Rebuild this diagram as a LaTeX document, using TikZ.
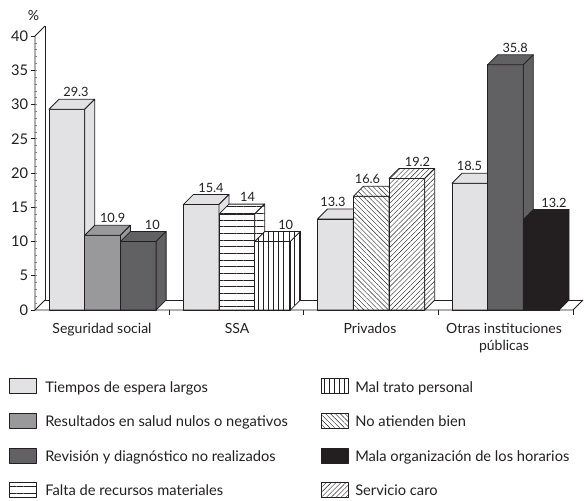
\documentclass[tikz,border=0pt]{standalone}
\usepackage{fontspec}
\setmainfont{Lato}
\usetikzlibrary{patterns.meta}

\definecolor{trazo}{RGB}{35,31,32}
\definecolor{espera}{RGB}{226,226,228}
\definecolor{nulos}{RGB}{153,153,156}
\definecolor{revision}{RGB}{97,97,99}
\definecolor{horarios}{RGB}{35,31,32}

\tikzset{
  barra/.style={draw=trazo, line width=0.6pt, line join=round},
  fespera/.style={fill=espera},
  fnulos/.style={fill=nulos},
  frevision/.style={fill=revision},
  fhorarios/.style={fill=horarios},
  fmateriales/.style={preaction={fill=white}, pattern={Lines[angle=0,distance=5pt,line width=0.4pt]}, pattern color=trazo},
  fmaltrato/.style={preaction={fill=white}, pattern={Lines[angle=90,distance=3.8pt,line width=0.4pt]}, pattern color=trazo},
  fatienden/.style={preaction={fill=white}, pattern={Lines[angle=-45,distance=2.6pt,line width=0.3pt]}, pattern color=trazo},
  fcaro/.style={preaction={fill=white}, pattern={Lines[angle=45,distance=2.6pt,line width=0.3pt]}, pattern color=trazo},
  val/.style={anchor=south, inner sep=0.75pt, font=\fontsize{9.6}{10}\selectfont, text=trazo},
  cat/.style={anchor=base, inner sep=0.75pt, font=\fontsize{10.5}{12}\selectfont, text=trazo},
  eje/.style={anchor=east, inner sep=0.75pt, font=\fontsize{11}{12}\selectfont, text=trazo},
  ley/.style={anchor=base west, inner sep=0pt, font=\fontsize{11}{12}\selectfont, text=trazo},
}

% 3D bar: left x, value, fill style
\newcommand{\cubo}[3]{%
  \pgfmathsetmacro{\ytop}{310-#2*6.85}
  \filldraw[barra,#3] (#1,310) rectangle ({#1+35.7},\ytop);
  \filldraw[barra,#3] (#1,\ytop) -- ({#1+10},{\ytop-10}) -- ({#1+45.7},{\ytop-10}) -- ({#1+35.7},\ytop) -- cycle;
  \filldraw[barra,#3] ({#1+35.7},310) -- ({#1+45.7},300) -- ({#1+45.7},{\ytop-10}) -- ({#1+35.7},\ytop) -- cycle;
}

\begin{document}
\begin{tikzpicture}[x=0.75pt,y=0.75pt,yscale=-1,xscale=1]
    \useasboundingbox (0,0) rectangle (584,500);

    % back wall and floor
    \draw[barra] (45,26) -- (45,300) -- (583,300);
    \draw[barra] (35,36) -- (45,26);

    % bars: Seguridad social, SSA, Privados, Otras instituciones publicas
    \foreach \x/\v/\f in {49/29.3/fespera, 84.7/10.9/fnulos, 120.4/10/frevision,
        183.3/15.4/fespera, 219/14/fmateriales, 254.7/10/fmaltrato,
        317.6/13.3/fespera, 353.3/16.6/fatienden, 389/19.2/fcaro,
        451.9/18.5/fespera, 487.6/35.8/frevision, 523.3/13.2/fhorarios}
      \cubo{\x}{\v}{\f};

    % values (x of label centre, value)
    \foreach \n/\x/\v in {v11/76/29.3, v12/112.7/10.9, v13/152.4/10,
        v21/211/15.4, v22/247.5/14, v23/285.7/10,
        v31/333/13.3, v32/367.5/16.6, v33/417.5/19.2,
        v41/469.5/18.5, v42/515.2/35.8, v43/554/13.2}
      \node[val] (\n) at (\x,{310-\v*6.85-11}) {\v};

    % front axis
    \draw[barra] (35,36) -- (35,310) -- (573,310) -- (583,300);
    \draw[barra] (35,310) -- (45,300);
    \foreach \v in {0,5,...,40}
      \draw[barra] (31,{310-\v*6.85}) -- (35,{310-\v*6.85});
    \foreach \v in {1,...,39}
      \draw[trazo!60, line width=0.4pt] (35,{310-\v*6.85}) -- (37,{310-\v*6.85});
    \foreach \x in {169,303.5,438,573}
      \draw[barra] (\x,310) -- (\x,315);
    \foreach \v in {0,5,...,40}
      \node[eje] (t\v) at (29.5,{310-\v*6.85}) {\v};
    \node[cat, anchor=center] (pct) at (33.5,15) {\%};

    % categories
    \node[cat] (seg) at (102,333) {Seguridad social};
    \node[cat] (ssa) at (237,333) {SSA};
    \node[cat] (priv) at (370,333) {Privados};
    \node[cat] (otras) at (504,333) {Otras instituciones};
    \node[cat] (publ) at (504,350.5) {públicas};

    % Legend
    \filldraw[barra,fespera] (9,378) rectangle (36,393);
    \node[ley] (l1) at (45,392) {Tiempos de espera largos};
    \filldraw[barra,fnulos] (9,413) rectangle (36,428);
    \node[ley] (l2) at (45,426.5) {Resultados en salud nulos o negativos};
    \filldraw[barra,frevision] (9,448) rectangle (36,463);
    \node[ley] (l3) at (45,461) {Revisión y diagnóstico no realizados};
    \filldraw[barra,fmateriales] (9,482) rectangle (36,497);
    \node[ley] (l4) at (45,495.5) {Falta de recursos materiales};
    \filldraw[barra,fmaltrato] (321,378) rectangle (348,393);
    \node[ley] (l5) at (355,392) {Mal trato personal};
    \filldraw[barra,fatienden] (321,413) rectangle (348,428);
    \node[ley] (l6) at (355,426.5) {No atienden bien};
    \filldraw[barra,fhorarios] (321,448) rectangle (348,463);
    \node[ley] (l7) at (355,461) {Mala organización de los horarios};
    \filldraw[barra,fcaro] (321,482) rectangle (348,497);
    \node[ley] (l8) at (355,495.5) {Servicio caro};

\end{tikzpicture}
\end{document}
